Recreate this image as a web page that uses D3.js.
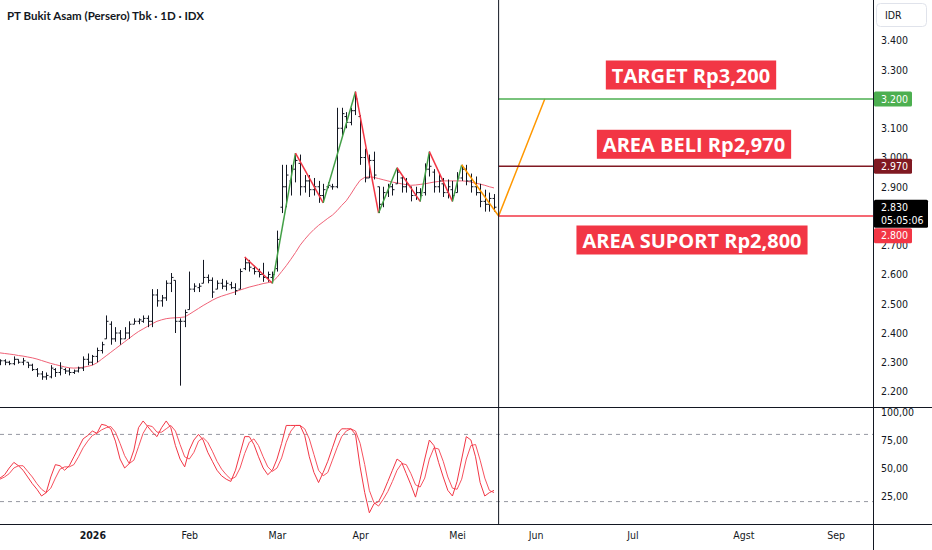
<!DOCTYPE html>
<html>
<head>
<meta charset="utf-8">
<script src="https://cdn.jsdelivr.net/npm/d3@7"></script>
<style>
  body { margin: 0; background: #fff; }
  svg { display: block; }
</style>
</head>
<body>
<div id="chart"></div>
<script>
// daily bars [open, high, low, close]
const bars = [
  [2300,2310,2290,2305],[2305,2310,2290,2300],[2300,2305,2290,2295],[2295,2320,2290,2310],
  [2310,2310,2295,2300],[2300,2315,2290,2305],[2300,2300,2280,2290],[2290,2295,2270,2275],
  [2275,2280,2250,2260],[2260,2270,2240,2250],[2250,2265,2240,2255],[2250,2290,2245,2280],
  [2275,2280,2250,2265],[2265,2300,2255,2280],[2275,2280,2260,2270],[2270,2280,2255,2265],
  [2265,2275,2260,2270],[2270,2285,2265,2280],[2280,2320,2270,2310],[2310,2330,2290,2300],
  [2300,2325,2290,2320],[2320,2350,2300,2340],[2340,2370,2330,2360],[2380,2460,2380,2440],
  [2430,2440,2360,2380],[2380,2420,2370,2400],[2400,2410,2360,2380],[2380,2420,2380,2400],
  [2400,2440,2380,2430],[2430,2450,2430,2440],[2440,2450,2430,2445],[2440,2460,2435,2450],
  [2450,2460,2420,2440],[2440,2550,2420,2530],[2530,2550,2490,2510],[2510,2530,2490,2520],
  [2520,2580,2510,2570],[2570,2605,2540,2590],[2580,2580,2400,2440],[2440,2450,2220,2440],
  [2440,2480,2420,2470],[2480,2610,2480,2550],[2550,2570,2540,2560],[2555,2570,2540,2560],
  [2570,2650,2570,2590],[2590,2600,2570,2580],[2580,2590,2520,2540],[2550,2580,2550,2570],
  [2570,2585,2550,2560],[2560,2580,2545,2570],[2565,2575,2550,2555],[2555,2570,2530,2545],
  [2550,2620,2550,2610],[2620,2660,2615,2640],[2640,2650,2610,2625],[2620,2630,2600,2610],
  [2610,2620,2590,2600],[2600,2640,2575,2590],[2590,2610,2575,2600],[2590,2610,2570,2600],
  [2620,2750,2610,2720],[2830,2975,2810,2900],[2900,2975,2830,2940],[2920,2975,2870,2960],
  [2960,3015,2915,2990],[2980,3010,2870,2900],[2900,2940,2880,2920],[2920,2940,2865,2890],
  [2890,2930,2870,2900],[2900,2920,2845,2870],[2870,2910,2845,2890],[2900,2915,2895,2905],
  [2900,2910,2890,2900],[2900,3170,2895,3100],[3100,3170,3075,3150],[3140,3155,3100,3120],
  [3120,3170,3110,3160],[3160,3225,3145,3200],[3140,3145,2975,3000],[3000,3030,2915,2930],
  [2930,3010,2930,2990],[2990,3020,2925,2940],[2900,2900,2810,2840],[2840,2900,2830,2880],
  [2880,2910,2865,2900],[2900,2910,2870,2890],[2910,2965,2910,2950],[2930,2935,2880,2900],
  [2900,2930,2880,2910],[2900,2900,2850,2870],[2870,2900,2855,2880],[2880,2895,2850,2870],
  [2880,2980,2870,2960],[2960,3020,2935,2970],[2950,2960,2880,2900],[2900,2945,2880,2920],
  [2910,2930,2865,2880],[2880,2925,2860,2900],[2890,2920,2850,2870],[2880,2950,2880,2930],
  [2930,2975,2920,2960],[2960,2975,2905,2920],[2920,2945,2880,2900],[2900,2935,2870,2880],
  [2880,2910,2830,2850],[2850,2890,2815,2840],[2840,2880,2815,2860],[2860,2875,2815,2830]
];

// moving average, one value per bar
const maValues = [
  2332,2330,2328,2326,2323,2321,2318,2315,2311,2306,2301,2296,2292,2288,2284,2281,
  2280,2281,2283,2286,2290,2298,2310,2322,2334,2346,2358,2370,2382,2394,2405,2414,
  2423,2432,2440,2445,2449,2451,2452,2453,2455,2464,2474,2484,2494,2503,2512,2520,
  2526,2531,2536,2541,2547,2552,2557,2561,2565,2569,2572,2575,2590,2610,2630,2652,
  2675,2700,2720,2738,2754,2768,2780,2792,2803,2818,2836,2852,2875,2900,2922,2932,
  2934,2932,2928,2924,2920,2916,2913,2910,2907,2905,2906,2908,2910,2913,2916,2918,
  2920,2920,2920,2920,2920,2919,2916,2912,2909,2905,2900,2896
];

// stochastic %K and %D
const stochK = [
  41,44,50,55,52,48,42,36,31,25,28,42,53,52,48,52,60,68,76,79,83,81,89,88,
  85,74,58,50,54,66,86,92,87,82,78,86,92,86,70,58,51,66,75,80,75,64,56,48,
  43,40,38,48,63,78,78,71,60,50,44,48,58,72,88,88,88,88,79,60,46,37,46,56,
  68,80,85,85,85,80,51,28,10,18,20,28,38,48,58,55,45,35,24,40,58,75,70,55,
  42,30,25,38,58,78,75,60,37,25,28,30
];
const stochD = [
  40,42,45,50,52,52,47,42,36,31,28,32,41,49,51,51,53,60,68,74,79,81,84,86,
  87,82,72,61,54,57,69,81,88,87,82,82,85,88,83,71,60,58,64,74,77,73,65,56,
  49,44,40,42,50,63,73,76,70,60,51,47,50,59,73,83,88,88,85,76,62,48,43,46,
  57,68,78,83,85,83,72,53,30,19,16,22,29,38,48,54,53,45,35,33,41,58,68,67,
  56,42,32,31,40,58,70,71,57,41,30,28
];

// zigzag pivots [bar index, price]
const zigzagPts = [
  [53,2660],[59,2570],[64,3015],[70,2845],[77,3225],[82,2810],
  [86,2965],[91,2850],[93,3020],[98,2850],[100,2975]
];
// projected path [bar index, price]
const projection = [[100,2975],[108,2800],[118,3200]];

const levelPrices = [3200, 2970, 2800];
const levelTexts = ["TARGET Rp3,200", "AREA BELI Rp2,970", "AREA SUPORT Rp2,800"];
const lastPrice = 2830;
const countdown = "05:05:06";

const monthLabels = ["2026","Feb","Mar","Apr","Mei","Jun","Jul","Agst","Sep"];
const monthIdx = [20, 41, 60, 78, 99, 116, 137, 161, 181];
// 2.800 is hidden under the last-price box in the original
const priceTicks = [2200,2300,2400,2500,2600,2700,2900,3000,3100,3200,3300,3400];
const stochTicks = [25, 50, 75, 100];
const stochBands = [20, 80];

const width = 932, height = 550;
const axisX = 873, paneSplit = 407, paneBottom = 524, cursorIdx = 108;
const ink = "#131722";
const levelColors = ["#4caf50", "#801922", "#f23645"];
const axisFont = "'DejaVu Sans Condensed', 'DejaVu Sans', Verdana, sans-serif";
const labelFont = "'Open Sans', 'Noto Sans', sans-serif";
const titleFont = "Lato, 'Open Sans', sans-serif";

const idr = d3.formatLocale({ decimal: ",", thousands: ".", grouping: [3], currency: ["Rp", ""] });
const fmtPrice = idr.format(",");
const fmtStoch = idr.format(".2f");

const svg = d3.select("#chart").append("svg")
    .attr("width", width)
    .attr("height", height);

const x = d3.scaleLinear().domain([0, 107]).range([0, 494]);
const y = d3.scaleLinear().domain([2200, 3400]).range([391.5, 40.5]);
const ys = d3.scaleLinear().domain([0, 100]).range([paneBottom, 412]);

const defs = svg.append("defs");
defs.append("clipPath").attr("id", "clipMain")
    .append("rect").attr("width", axisX).attr("height", paneSplit);
defs.append("clipPath").attr("id", "clipStoch")
    .append("rect").attr("y", paneSplit).attr("width", axisX).attr("height", paneBottom - paneSplit);

const main = svg.append("g").attr("clip-path", "url(#clipMain)");
const stoch = svg.append("g").attr("clip-path", "url(#clipStoch)");

// moving average
main.append("path")
    .datum(maValues)
    .attr("fill", "none")
    .attr("stroke", "#f06277")
    .attr("stroke-width", 1)
    .attr("d", d3.line().x((d, i) => x(i)).y(d => y(d)));

// OHLC bars
const barG = main.append("g")
    .attr("stroke", ink)
    .attr("stroke-width", 1)
    .attr("fill", "none");

barG.selectAll("path")
    .data(bars)
    .join("path")
    .attr("d", (d, i) => {
        const cx = Math.round(x(i)) + 0.5;
        return `M${cx},${y(d[1])}V${y(d[2])}` +
            `M${cx - 2},${y(d[0])}H${cx}` +
            `M${cx},${y(d[3])}H${cx + 2}`;
    });

// zigzag
const zz = d3.pairs(zigzagPts);
main.append("g").selectAll("line")
    .data(zz)
    .join("line")
    .attr("x1", d => x(d[0][0])).attr("y1", d => y(d[0][1]))
    .attr("x2", d => x(d[1][0])).attr("y2", d => y(d[1][1]))
    .attr("stroke", d => d[1][1] > d[0][1] ? "#43a047" : "#f23645")
    .attr("stroke-width", 1.5);

main.append("path")
    .datum(projection)
    .attr("fill", "none")
    .attr("stroke", "#ff9800")
    .attr("stroke-width", 1.5)
    .attr("d", d3.line().x(d => x(d[0])).y(d => y(d[1])));

// level lines
main.append("g").selectAll("line")
    .data(levelPrices)
    .join("line")
    .attr("x1", x(cursorIdx)).attr("x2", axisX)
    .attr("y1", d => y(d)).attr("y2", d => y(d))
    .attr("stroke", (d, i) => levelColors[i])
    .attr("stroke-width", 1.5);

// level labels
const labelCenters = [691, 694, 692];
const labelOffsets = [-24, -22, 24];
levelPrices.forEach((p, i) => {
    const g = main.append("g");
    const t = g.append("text")
        .attr("x", labelCenters[i])
        .attr("y", y(p) + labelOffsets[i])
        .attr("text-anchor", "middle")
        .attr("dominant-baseline", "central")
        .attr("font-family", labelFont)
        .attr("font-weight", 700)
        .attr("font-size", "20px")
        .attr("fill", "#fff")
        .text(levelTexts[i]);
    const b = t.node().getBBox();
    g.insert("rect", "text")
        .attr("x", b.x - 6).attr("y", y(p) + labelOffsets[i] - 14.5)
        .attr("width", b.width + 12).attr("height", 29)
        .attr("fill", "#f23645");
});

// stochastic bands
stoch.append("g").selectAll("line")
    .data(stochBands)
    .join("line")
    .attr("x1", 0).attr("x2", axisX)
    .attr("y1", d => ys(d)).attr("y2", d => ys(d))
    .attr("stroke", "#9598a1")
    .attr("stroke-dasharray", "4,4");

stoch.append("path")
    .datum(stochD)
    .attr("fill", "none")
    .attr("stroke", "#f7525f")
    .attr("stroke-width", 1)
    .attr("d", d3.line().x((d, i) => x(i)).y(d => ys(d)));

stoch.append("path")
    .datum(stochK)
    .attr("fill", "none")
    .attr("stroke", "#f23645")
    .attr("stroke-width", 1)
    .attr("d", d3.line().x((d, i) => x(i)).y(d => ys(d)));

// frame lines
svg.append("line")
    .attr("x1", x(cursorIdx)).attr("x2", x(cursorIdx))
    .attr("y1", 0).attr("y2", paneBottom)
    .attr("stroke", ink);
svg.append("line")
    .attr("x1", 0).attr("x2", width).attr("y1", paneSplit + 0.5).attr("y2", paneSplit + 0.5)
    .attr("stroke", ink);
svg.append("line")
    .attr("x1", 0).attr("x2", width).attr("y1", paneBottom + 0.5).attr("y2", paneBottom + 0.5)
    .attr("stroke", ink);
svg.append("line")
    .attr("x1", axisX + 0.5).attr("x2", axisX + 0.5).attr("y1", 0).attr("y2", height)
    .attr("stroke", ink);

// price axis
const yAxis = svg.append("g")
    .attr("transform", `translate(${axisX},0)`)
    .call(d3.axisRight(y).tickValues(priceTicks).tickSize(0).tickPadding(8).tickFormat(fmtPrice));
const sAxis = svg.append("g")
    .attr("transform", `translate(${axisX},0)`)
    .call(d3.axisRight(ys).tickValues(stochTicks).tickSize(0).tickPadding(8).tickFormat(fmtStoch));
[yAxis, sAxis].forEach(a => {
    a.select(".domain").remove();
    a.selectAll("text")
        .attr("font-family", axisFont)
        .attr("font-stretch", "condensed")
        .attr("font-size", "10.5px")
        .attr("fill", ink);
});

// price tags
const tags = svg.append("g")
    .attr("font-family", axisFont)
    .attr("font-stretch", "condensed")
    .attr("font-size", "10.5px");
const lastY = y(lastPrice);
const tagBoxes = [
    { price: levelPrices[0], cy: y(levelPrices[0]), fill: levelColors[0] },
    { price: levelPrices[1], cy: y(levelPrices[1]), fill: levelColors[1] },
    { price: levelPrices[2], cy: lastY + 28.5, fill: levelColors[2] }
];
tags.selectAll("rect.lvl")
    .data(tagBoxes)
    .join("rect")
    .attr("class", "lvl")
    .attr("x", axisX + 1).attr("y", d => d.cy - 7.5)
    .attr("width", 38).attr("height", 15).attr("rx", 1.5)
    .attr("fill", d => d.fill);
tags.selectAll("text.lvl")
    .data(tagBoxes)
    .join("text")
    .attr("class", "lvl")
    .attr("x", axisX + 8).attr("y", d => d.cy)
    .attr("dy", "0.35em")
    .attr("fill", "#fff")
    .text(d => fmtPrice(d.price));

tags.append("rect")
    .attr("x", axisX + 1).attr("y", lastY - 7.5)
    .attr("width", 54).attr("height", 28).attr("rx", 1.5)
    .attr("fill", "#000");
tags.append("text")
    .attr("x", axisX + 8).attr("y", lastY).attr("dy", "0.35em")
    .attr("fill", "#fff").text(fmtPrice(lastPrice));
tags.append("text")
    .attr("x", axisX + 8).attr("y", lastY + 13).attr("dy", "0.35em")
    .attr("fill", "#fff").text(countdown);

// currency box
svg.append("rect")
    .attr("x", 876.5).attr("y", 3.5).attr("width", 50).attr("height", 23).attr("rx", 4)
    .attr("fill", "#fff").attr("stroke", "#e0e3eb");
svg.append("text")
    .attr("x", 885).attr("y", 15).attr("dy", "0.35em")
    .attr("font-family", axisFont).attr("font-stretch", "condensed")
    .attr("font-size", "10.5px").attr("fill", ink)
    .text("IDR");

// time axis
const xAxis = svg.append("g")
    .attr("transform", `translate(0,${paneBottom})`)
    .call(d3.axisBottom(x).tickValues(monthIdx).tickSize(0).tickPadding(8)
        .tickFormat((d, i) => monthLabels[i]));
xAxis.select(".domain").remove();
xAxis.selectAll("text")
    .attr("font-family", axisFont)
    .attr("font-stretch", "condensed")
    .attr("font-size", "10.5px")
    .attr("fill", ink)
    .attr("font-weight", (d, i) => i === 0 ? 700 : 400);

// title
svg.append("text")
    .attr("x", 7).attr("y", 19.5)
    .attr("font-family", titleFont)
    .attr("font-weight", 700)
    .attr("font-size", "11.5px")
    .attr("fill", ink)
    .text("PT Bukit Asam (Persero) Tbk · 1D · IDX");
</script>
</body>
</html>
